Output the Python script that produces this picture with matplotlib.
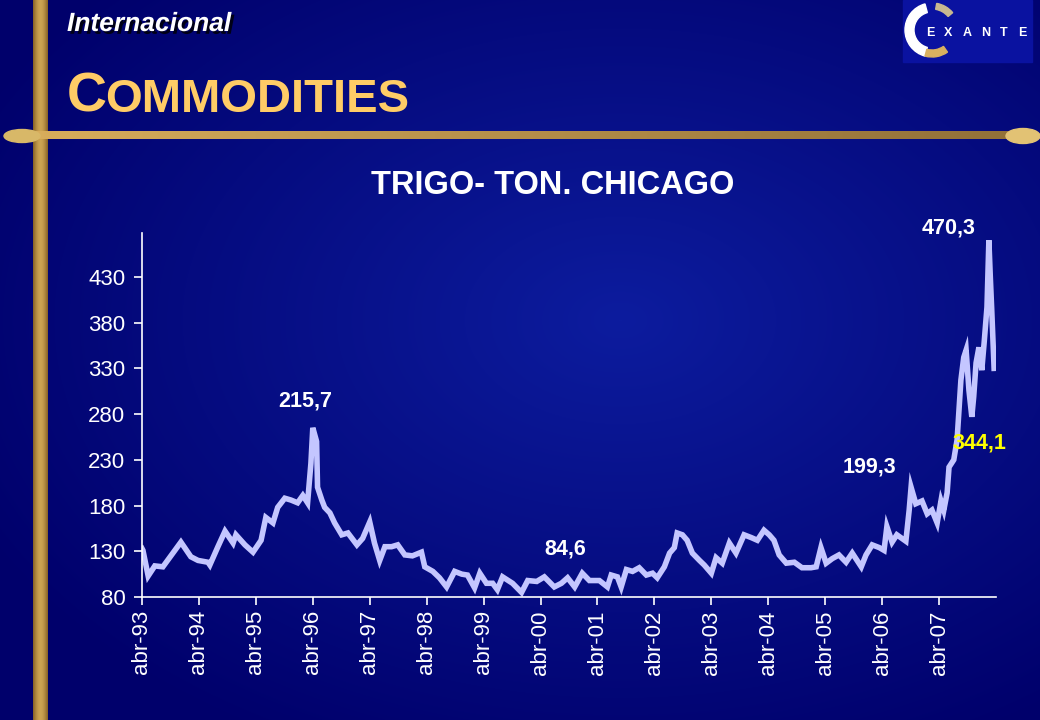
import numpy as np
import matplotlib
matplotlib.use('Agg')
import matplotlib.pyplot as plt
import matplotlib.patheffects as pe
from matplotlib.patches import Rectangle, Ellipse, Wedge

plt.rcParams['font.family'] = ['Liberation Sans', 'DejaVu Sans']

# months since abr-93, wheat price (US$/ton, Chicago)
months = [0.0, 0.2, 1.3, 2.7, 4.4, 8.2, 10.3, 11.8, 13.9, 14.3, 16.0, 17.5, 19.2, 19.8,
          21.7, 23.4, 25.1, 26.1, 27.6, 28.6, 30.1, 31.4, 32.8, 33.9, 34.9, 35.6, 36.0,
          36.8, 37.0, 37.9, 38.5, 39.6, 40.6, 42.1, 43.4, 45.3, 46.5, 48.0, 49.0, 50.1,
          51.2, 52.6, 53.9, 55.4, 57.0, 58.9, 59.6, 61.3, 62.7, 64.2, 65.9, 67.4, 68.6,
          70.1, 71.2, 72.6, 73.9, 74.9, 76.0, 78.1, 80.0, 81.3, 83.2, 84.8, 86.9, 88.4,
          89.7, 91.2, 92.8, 94.3, 96.4, 98.1, 98.9, 100.2, 101.0, 102.1, 103.4, 104.8,
          106.3, 107.6, 108.6, 110.1, 111.2, 112.2, 112.8, 113.9, 114.9, 116.0, 117.5,
          118.5, 120.0, 121.0, 122.3, 123.8, 125.2, 126.9, 128.4, 129.7, 131.1, 132.2,
          133.2, 134.3, 135.8, 137.5, 139.1, 141.0, 142.1, 143.1, 144.2, 145.5, 146.9,
          148.4, 149.7, 151.6, 152.6, 153.9, 155.4, 156.4, 157.0, 158.1, 159.1, 161.0,
          161.7, 162.1, 163.1, 164.4, 165.5, 166.5, 167.6, 168.4, 169.0, 169.7, 170.1,
          171.1, 171.8, 172.6, 173.2, 173.7, 174.3, 174.9, 175.3, 175.8, 176.4, 177.0,
          177.5, 178.1, 178.5, 178.8, 179.1, 179.6]
price = [133, 131, 103, 114, 113, 140, 124, 120, 118, 115, 135, 152, 139, 148,
         137, 129, 142, 167, 161, 178, 188, 186, 183, 191, 183, 226, 265,
         250, 200, 186, 178, 172, 161, 148, 150, 137, 144, 162, 139, 120,
         135, 135, 137, 126, 125, 129, 113, 108, 101, 91, 108, 105, 104,
         90, 106, 95, 95, 88, 102, 95, 85, 98, 97, 102, 91, 95,
         101, 91, 106, 98, 98, 91, 104, 102, 91, 110, 108, 112,
         104, 106, 101, 113, 128, 134, 150, 148, 142, 128, 120,
         115, 106, 123, 117, 139, 128, 148, 145, 142, 153, 148,
         142, 126, 117, 118, 112, 112, 113, 134, 117, 122, 126,
         118, 128, 113, 126, 137, 134, 131, 157, 140, 148, 141,
         175, 200, 182, 185, 171, 175, 161, 185, 175, 194, 222,
         230, 252, 317, 342, 350, 306, 277, 299, 336, 353, 328,
         358, 397, 470, 430, 394, 330]

tick_months = list(range(0, 180, 12))
tick_labels = ['abr-%02d' % (y % 100) for y in range(1993, 2008)]
y_ticks = [80, 130, 180, 230, 280, 330, 380, 430]

# labels: (text, month, value, colour)
label_text = ['215,7', '84,6', '199,3', '470,3', '344,1']
label_month = [34.5, 89.3, 153.3, 169.9, 176.6]
label_value = [294, 132.5, 222, 484, 248]
label_color = ['white', 'white', 'white', 'white', '#ffff00']

W, H = 1040, 720
fig = plt.figure(figsize=(10.4, 7.2), dpi=100)

# slide background
bg = fig.add_axes([0, 0, 1, 1])
bg.set_xlim(0, W)
bg.set_ylim(H, 0)
bg.axis('off')
yy, xx = np.mgrid[0:H, 0:W]
d = np.sqrt(((xx - 620) / 720.0) ** 2 + ((yy - 320) / 480.0) ** 2)
t = np.clip(1 - d, 0, 1)[..., None]
edge = np.array([0.0, 0.0, 0.42])
center = np.array([0.05, 0.11, 0.62])
bg.imshow(edge + t * (center - edge), extent=(0, W, H, 0), aspect='auto', zorder=0)

# gold bars
vgrad = np.linspace(0, 1, 15)
vcol = np.array([0.55, 0.40, 0.16]) + np.sin(vgrad * np.pi)[:, None] * np.array([0.25, 0.24, 0.16])
bg.imshow(vcol[None, :, :], extent=(33, 48, H, 0), aspect='auto', zorder=1)
hgrad = np.linspace(0, 1, 400)
hcol = np.array([0.85, 0.68, 0.36]) - hgrad[:, None] * np.array([0.28, 0.24, 0.14])
bg.imshow(hcol[None, :, :], extent=(20, 1020, 139, 131), aspect='auto', zorder=2)
bg.add_patch(Ellipse((22, 136), 36, 13, color='#d8b868', zorder=3))
bg.add_patch(Ellipse((1023, 136), 34, 15, color='#e2c274', zorder=3))

# logo
bg.add_patch(Rectangle((903, 0), 129, 62, color='#0a12a0', zorder=2))
bg.add_patch(Wedge((932, 30), 27, 105, 255, width=9, color='white', zorder=3))
bg.add_patch(Wedge((932, 30), 27, 55, 105, width=7, color='#d8b060', zorder=3))
bg.add_patch(Wedge((932, 30), 27, 280, 320, width=6, color='#c8b890', zorder=3))
for lx, ch in zip(np.linspace(930, 1022, 6), 'EXANTE'):
    bg.text(lx, 33, ch, color='white', fontsize=9, fontweight='bold',
            ha='center', va='center', zorder=4)

# slide texts
fig.text(67 / W, 1 - 31 / H, 'Internacional', color='white', fontsize=19,
         fontweight='bold', fontstyle='italic', va='baseline',
         path_effects=[pe.withSimplePatchShadow(offset=(2, -2), shadow_rgbFace='black', alpha=0.8)])
fig.text(67 / W, 1 - 112 / H, 'C', color='#ffcc66', fontsize=40, fontweight='bold', va='baseline')
fig.text(105 / W, 1 - 112 / H, 'OMMODITIES', color='#ffcc66', fontsize=34, fontweight='bold', va='baseline')
fig.text(553 / W, 1 - 186 / H, 'TRIGO- TON. CHICAGO', color='white', fontsize=23.5,
         fontweight='bold', ha='center', va='center')

# chart
ax = fig.add_axes([142 / W, 1 - 597 / H, (996 - 142) / W, (597 - 233) / H])
ax.set_facecolor('none')
ax.plot(months, price, color='#c4c6ff', lw=4.0, solid_joinstyle='miter')
ax.set_xlim(0, 180)
ax.set_ylim(80, 478)
ax.set_xticks(tick_months)
ax.set_xticklabels(tick_labels, rotation=90)
ax.set_yticks(y_ticks)
for s in ['top', 'right']:
    ax.spines[s].set_visible(False)
for s in ['left', 'bottom']:
    ax.spines[s].set_color('white')
    ax.spines[s].set_linewidth(1.2)
ax.tick_params(colors='white', labelsize=16, length=6, width=1.2, direction='out')
ax.tick_params(axis='y', pad=6)

for txt, m, v, c in zip(label_text, label_month, label_value, label_color):
    ax.text(m, v, txt, color=c, fontsize=15.5, fontweight='bold',
            ha='center', va='center', clip_on=False)

fig.savefig('out.png', dpi=100)
